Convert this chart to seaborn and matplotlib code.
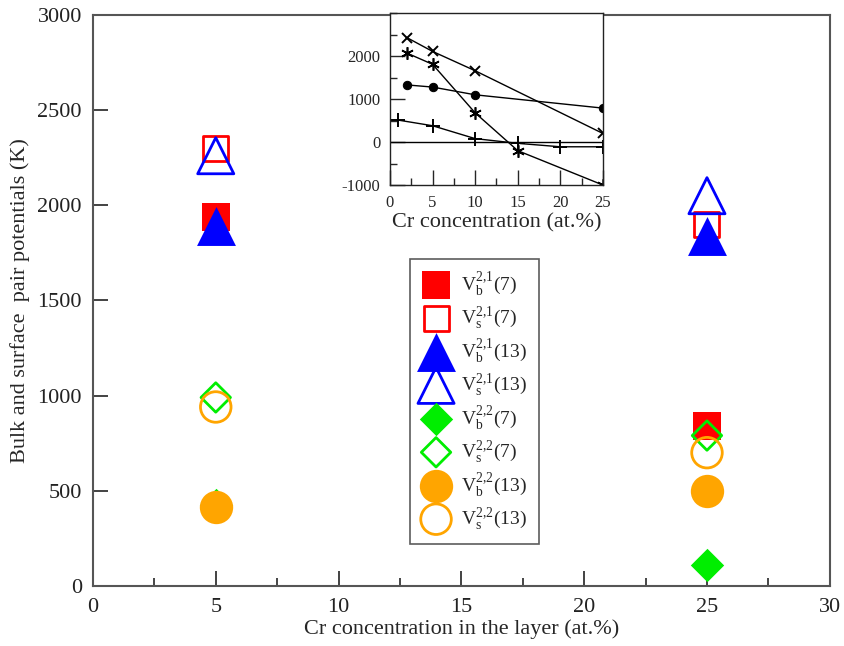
import numpy as np
import pandas as pd
import matplotlib
matplotlib.use("Agg")
import matplotlib.pyplot as plt
import seaborn as sns
from matplotlib.ticker import MultipleLocator

# main panel data: value at 5 and 25 at.% Cr
conc = [5, 25]
vb21_7 = [1940, 840]
vs21_7 = [2300, 1900]
vb21_13 = [1890, 1840]
vs21_13 = [2260, 2050]
vb22_7 = [425, 110]
vs22_7 = [990, 790]
vb22_13 = [415, 500]
vs22_13 = [940, 700]

# inset data
ins_x_x = [2, 5, 10, 25]
ins_x_y = [2430, 2110, 1660, 200]
ins_ast_x = [2, 5, 10, 15, 25]
ins_ast_y = [2070, 1810, 680, -200, -1000]
ins_dot_x = [2, 5, 10, 25]
ins_dot_y = [1330, 1280, 1100, 790]
ins_plus_x = [1, 5, 10, 15, 20, 25]
ins_plus_y = [510, 380, 80, -30, -110, -110]

sns.set_style("ticks")
plt.rcParams['font.family'] = ['Liberation Serif', 'DejaVu Serif']
plt.rcParams['mathtext.fontset'] = 'stix'
plt.rcParams['axes.unicode_minus'] = False

fig = plt.figure(figsize=(8.45, 6.46), dpi=100)
ax = fig.add_axes([0.110, 0.093, 0.872, 0.884])

series = [
    (vb21_7, r'V$_\mathregular{b}^{\mathregular{2{,}1}}$(7)', 's', 'red', True, 20),
    (vs21_7, r'V$_\mathregular{s}^{\mathregular{2{,}1}}$(7)', 's', 'red', False, 20),
    (vb21_13, r'V$_\mathregular{b}^{\mathregular{2{,}1}}$(13)', '^', 'blue', True, 28),
    (vs21_13, r'V$_\mathregular{s}^{\mathregular{2{,}1}}$(13)', '^', 'blue', False, 28),
    (vb22_7, r'V$_\mathregular{b}^{\mathregular{2{,}2}}$(7)', 'D', '#00ee00', True, 17),
    (vs22_7, r'V$_\mathregular{s}^{\mathregular{2{,}2}}$(7)', 'D', '#00ee00', False, 17),
    (vb22_13, r'V$_\mathregular{b}^{\mathregular{2{,}2}}$(13)', 'o', 'orange', True, 24),
    (vs22_13, r'V$_\mathregular{s}^{\mathregular{2{,}2}}$(13)', 'o', 'orange', False, 24),
]

for vals, lab, mk, col, filled, ms in series:
    if filled:
        sns.scatterplot(x=conc, y=vals, ax=ax, marker=mk, s=ms**2, color=col,
                        edgecolor=col, linewidth=0, label=lab)
    else:
        sns.scatterplot(x=conc, y=vals, ax=ax, marker=mk, s=(ms - 2)**2, facecolor='none',
                        edgecolor=col, linewidth=2, label=lab)

ax.set_xlim(0, 30)
ax.set_ylim(0, 3000)
ax.xaxis.set_major_locator(MultipleLocator(5))
ax.xaxis.set_minor_locator(MultipleLocator(2.5))
ax.yaxis.set_major_locator(MultipleLocator(500))
ax.tick_params(axis='both', which='major', direction='in', length=11, width=1.2,
               labelsize=16, colors='#222222', top=False, right=False)
ax.tick_params(axis='x', which='major', pad=9)
ax.tick_params(axis='y', which='major', pad=8)
ax.tick_params(axis='x', which='minor', direction='in', length=6, width=1.2, top=False)
for sp in ax.spines.values():
    sp.set_color('#555555')
    sp.set_linewidth(1.5)
ax.set_xlabel('Cr concentration in the layer (at.%)', fontsize=16, labelpad=1)
ax.set_ylabel('Bulk and surface  pair potentials (K)', fontsize=16, labelpad=5)

leg = ax.legend(loc='upper left', bbox_to_anchor=(0.430, 0.573), fontsize=14,
                frameon=True, fancybox=False, edgecolor='#333333', labelspacing=0.28,
                handletextpad=0.55, handlelength=1.5, borderpad=0.6, borderaxespad=0,
                markerscale=1.0)
leg.get_frame().set_linewidth(1.2)

# inset
ins = fig.add_axes([0.4615, 0.7136, 0.252, 0.266])
ins.axhline(0, color='black', linewidth=1)
line_kw = dict(color='black', linewidth=1, markeredgecolor='black', markerfacecolor='black')
sns.lineplot(x=ins_x_x, y=ins_x_y, ax=ins, marker='x', markersize=7,
             markeredgewidth=1.4, **line_kw)
sns.lineplot(x=ins_ast_x, y=ins_ast_y, ax=ins, marker=(6, 2, 0),
             markersize=9, markeredgewidth=1.2, **line_kw)
sns.lineplot(x=ins_dot_x, y=ins_dot_y, ax=ins, marker='o', markersize=6, **line_kw)
sns.lineplot(x=ins_plus_x, y=ins_plus_y, ax=ins, marker='+', markersize=10,
             markeredgewidth=1.4, **line_kw)
ins.set_xlim(0, 25)
ins.set_ylim(-1000, 3000)
ins.xaxis.set_major_locator(MultipleLocator(5))
ins.xaxis.set_minor_locator(MultipleLocator(2.5))
ins.yaxis.set_minor_locator(MultipleLocator(500))
ins.set_yticks([-1000, 0, 1000, 2000])
ins.tick_params(axis='both', which='major', direction='in', length=11, width=1,
                labelsize=12, pad=7)
ins.tick_params(axis='both', which='minor', direction='in', length=5, width=1)
for sp in ins.spines.values():
    sp.set_color('#222222')
    sp.set_linewidth(1)
ins.set_xlabel('Cr concentration (at.%)', fontsize=16, labelpad=2)

fig.savefig('out.png', dpi=100)
